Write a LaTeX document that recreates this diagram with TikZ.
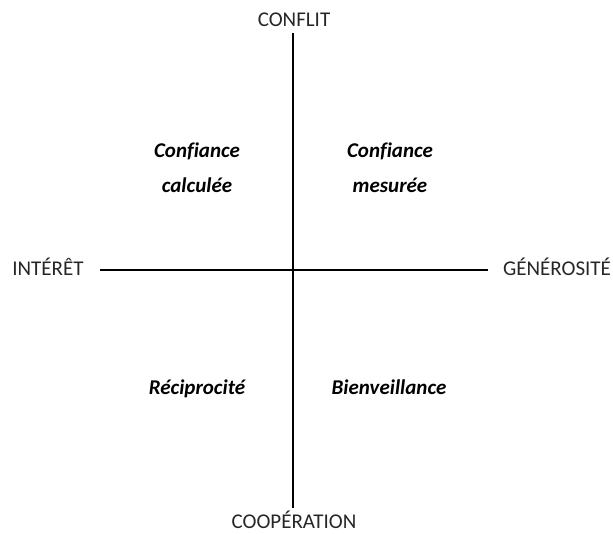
\documentclass[tikz,border=0pt]{standalone}
\usepackage{fontspec}
\setmainfont[Ligatures={NoCommon}]{Carlito}
\begin{document}
\begin{tikzpicture}[x=1pt,y=-1pt,
  axislabel/.style={font=\fontsize{21}{25}\selectfont, inner sep=0pt, text=black!85, anchor=base},
  quad/.style={font=\fontsize{21}{35}\selectfont\bfseries\itshape, inner sep=0pt, anchor=base},
  axis/.style={line width=1.5pt}]
\useasboundingbox (0,0) rectangle (613,533);
\node[axislabel] (conflit) at (294,26.5) {CONFLIT};
\node[axislabel] (coop) at (294,528) {COOPÉRATION};
\node[axislabel] (interet) at (48,275) {INTÉRÊT};
\node[axislabel] (gen) at (557,275) {GÉNÉROSITÉ};
\coordinate (top) at (293,33);
\coordinate (bot) at (293,508);
\coordinate (left) at (100,270);
\coordinate (right) at (488,270);
\draw[axis] (top) -- (bot);
\draw[axis] (left) -- (right);
\node[quad] (cc1) at (197,157) {Confiance};
\node[quad] (cc2) at (197,192) {calculée};
\node[quad] (cm1) at (390,157) {Confiance};
\node[quad] (cm2) at (390,192) {mesurée};
\node[quad] (rec) at (197,394) {Réciprocité};
\node[quad] (bien) at (389,394) {Bienveillance};
\end{tikzpicture}
\end{document}
